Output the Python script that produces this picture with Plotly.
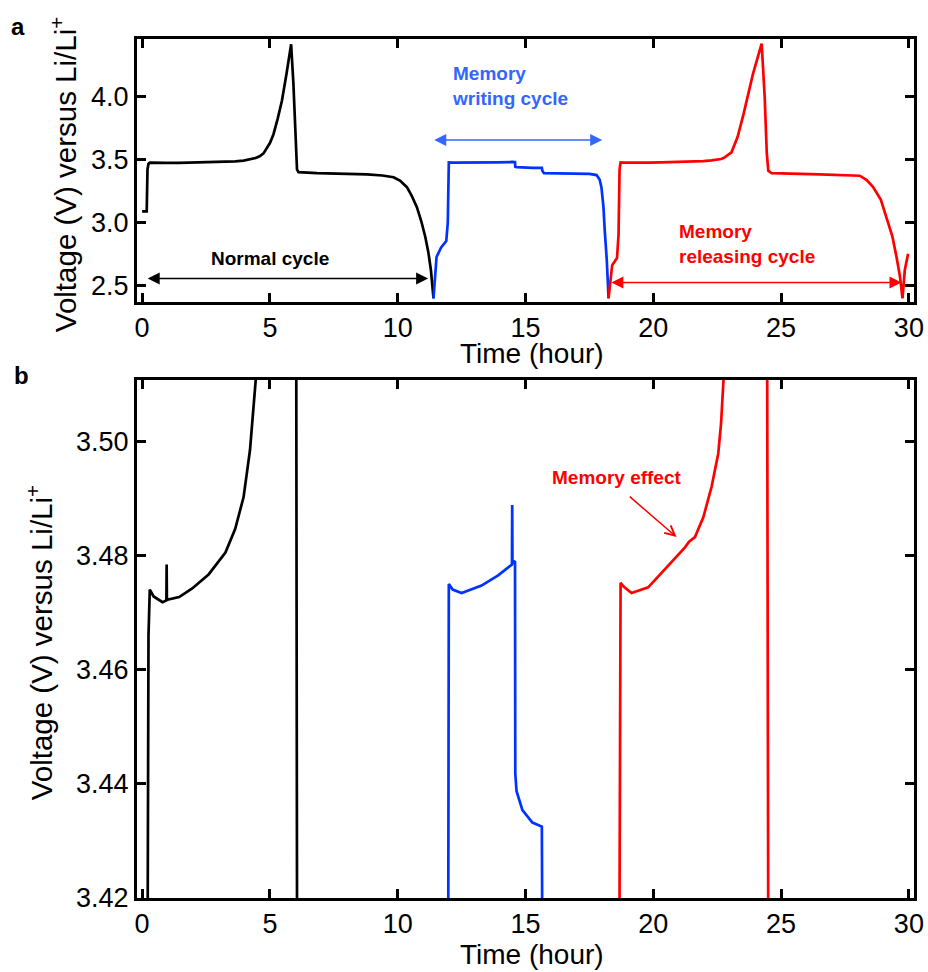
import plotly.graph_objects as go

# ---------------- data (time in hours, voltage in V vs Li/Li+) ----------------
black_t = [0.0, 0.18, 0.21, 0.25, 0.30, 0.45, 0.80, 0.95, 0.96, 0.97, 1.45, 1.96, 2.61, 3.26,
           3.64, 3.97, 4.22, 4.44, 4.60, 4.75, 5.00, 5.14, 5.30, 5.47, 5.65, 5.83, 5.92, 6.02,
           6.06, 6.12, 6.84, 8.80, 9.40, 9.84, 10.10, 10.36, 10.55, 10.75, 10.92, 11.08, 11.20,
           11.30, 11.36, 11.40]
black_v = [3.086, 3.086, 3.42, 3.466, 3.4740, 3.4728, 3.4718, 3.4721, 3.4784, 3.4722, 3.4727,
           3.4742, 3.4767, 3.4805, 3.4846, 3.4902, 3.4984, 3.5104, 3.525, 3.548, 3.63, 3.70,
           3.82, 3.966, 4.18, 4.415, 4.10, 3.55, 3.42, 3.398, 3.390, 3.380, 3.372, 3.358, 3.33,
           3.279, 3.21, 3.12, 3.01, 2.883, 2.76, 2.619, 2.50, 2.395]

blue_t = [11.40, 11.52, 11.70, 11.90, 11.96, 11.98, 12.00, 12.15, 12.50, 13.28, 13.93, 14.47,
          14.48, 14.49, 14.59, 14.60, 14.65, 14.88, 15.27, 15.64, 15.66, 15.72, 17.50, 17.78,
          17.90, 17.97, 18.05, 18.10, 18.18, 18.25]
blue_v = [2.395, 2.724, 2.80, 2.851, 3.00, 3.42, 3.4750, 3.4740, 3.4734, 3.4747, 3.4765, 3.4784,
          3.4888, 3.4786, 3.4790, 3.4418, 3.4387, 3.4354, 3.4332, 3.4325, 3.41, 3.39, 3.385,
          3.375, 3.34, 3.279, 3.12, 2.936, 2.70, 2.395]

red_t = [18.25, 18.39, 18.58, 18.64, 18.68, 18.70, 18.72, 18.85, 19.15, 19.80, 20.30, 20.85,
         21.10, 21.24, 21.40, 21.63, 21.96, 22.28, 22.54, 22.65, 22.75, 22.90, 23.06, 23.30,
         23.53, 23.90, 24.10, 24.24, 24.36, 24.44, 24.50, 24.63, 26.50, 28.08, 28.35, 28.60,
         28.90, 29.13, 29.35, 29.52, 29.65, 29.75, 29.84, 29.97]
red_v = [2.395, 2.658, 2.716, 2.90, 3.42, 3.466, 3.4752, 3.4745, 3.4734, 3.4744, 3.4768, 3.4794,
         3.4806, 3.4814, 3.4824, 3.4832, 3.4867, 3.4920, 3.4978, 3.503, 3.511, 3.530, 3.556,
         3.68, 3.86, 4.18, 4.33, 4.42, 3.99, 3.55, 3.41, 3.39, 3.38, 3.37, 3.335, 3.28, 3.18,
         3.04, 2.89, 2.72, 2.57, 2.395, 2.62, 2.75]

x_ticks = [0, 5, 10, 15, 20, 25, 30]
top_y_ticks = [2.5, 3.0, 3.5, 4.0]
bottom_y_ticks = [3.42, 3.44, 3.46, 3.48, 3.50]

# ---------------- figure ----------------
BLACK = "#000000"
BLUE = "#0033FF"
BLUE_TXT = "#3366FF"
RED = "#FF0000"
FONT = "Liberation Sans, Arial, sans-serif"

fig = go.Figure()
series = [(black_t, black_v, BLACK), (blue_t, blue_v, BLUE), (red_t, red_v, RED)]
for xa, ya in (("x", "y"), ("x2", "y2")):
    for t, v, c in series:
        fig.add_trace(go.Scatter(x=t, y=v, mode="lines", xaxis=xa, yaxis=ya,
                                 line=dict(color=c, width=2.7), showlegend=False,
                                 hoverinfo="skip"))

axis_common = dict(showline=True, linewidth=3, linecolor="black", mirror="ticks",
                   ticks="inside", ticklen=9, tickwidth=3, tickcolor="black",
                   showgrid=False, zeroline=False, automargin=False,
                   tickfont=dict(family=FONT, size=27, color="black"))

fig.update_layout(
    width=928, height=972,
    margin=dict(l=137, r=14, t=39, b=74, autoexpand=False),
    paper_bgcolor="white", plot_bgcolor="white",
    font=dict(family=FONT, color="black"),
    xaxis=dict(domain=[0, 1], range=[-0.2, 30.2], tickvals=x_ticks, anchor="y", **axis_common),
    yaxis=dict(domain=[0.6944, 1], range=[2.37, 4.457], tickvals=top_y_ticks,
               tickformat=".1f", anchor="x", **axis_common),
    xaxis2=dict(domain=[0, 1], range=[-0.2, 30.2], tickvals=x_ticks, anchor="y2", **axis_common),
    yaxis2=dict(domain=[0, 0.603], range=[3.42, 3.5107], tickvals=bottom_y_ticks,
                tickformat=".2f", anchor="x2", **axis_common),
)

ann = []
# panel letters
ann.append(dict(text="<b>a</b>", xref="paper", yref="paper", x=-0.165, y=1.015,
                xanchor="left", yanchor="middle", showarrow=False,
                font=dict(size=24, family=FONT)))
ann.append(dict(text="<b>b</b>", xref="paper", yref="paper", x=-0.161, y=0.6077,
                xanchor="left", yanchor="middle", showarrow=False,
                font=dict(size=24, family=FONT)))
# axis titles
ytitle = "Voltage (V) versus Li/Li<sup>+</sup>"
ann.append(dict(text=ytitle, xref="paper", yref="paper", x=-0.0947, y=0.842, textangle=-90,
                xanchor="center", yanchor="middle", showarrow=False,
                font=dict(size=29.5, family=FONT)))
ann.append(dict(text=ytitle, xref="paper", yref="paper", x=-0.1256, y=0.297, textangle=-90,
                xanchor="center", yanchor="middle", showarrow=False,
                font=dict(size=29.5, family=FONT)))
ann.append(dict(text="Time (hour)", xref="paper", yref="paper", x=0.5084, y=0.6333,
                xanchor="center", yanchor="middle", showarrow=False,
                font=dict(size=28, family=FONT)))
ann.append(dict(text="Time (hour)", xref="paper", yref="paper", x=0.5084, y=-0.066,
                xanchor="center", yanchor="middle", showarrow=False,
                font=dict(size=28, family=FONT)))

# double arrows, top panel
def double_arrow(x0, x1, y, color):
    return dict(x=x1, y=y, ax=x0, ay=y, xref="x", yref="y", axref="x", ayref="y",
                text="", showarrow=True, arrowside="end+start",
                arrowhead=2, startarrowhead=2, arrowsize=1.6, startarrowsize=1.6,
                arrowwidth=1.5, arrowcolor=color)

ann.append(double_arrow(0.16, 11.19, 2.553, BLACK))
ann.append(double_arrow(11.37, 18.0, 3.655, BLUE_TXT))
ann.append(double_arrow(18.3, 29.71, 2.521, RED))

ann.append(dict(text="<b>Normal cycle</b>", x=5.01, y=2.714, xref="x", yref="y",
                showarrow=False, xanchor="center", yanchor="middle",
                font=dict(size=19, family=FONT, color=BLACK)))
ann.append(dict(text="<b>Memory<br>writing cycle</b>", x=12.04, y=4.081, xref="x", yref="y",
                showarrow=False, xanchor="left", yanchor="middle", align="left",
                font=dict(size=19, family=FONT, color=BLUE_TXT)))
ann.append(dict(text="<b>Memory<br>releasing cycle</b>", x=20.92, y=2.826, xref="x", yref="y",
                showarrow=False, xanchor="left", yanchor="middle", align="left",
                font=dict(size=19, family=FONT, color=RED)))

# memory effect annotation, bottom panel
ann.append(dict(text="<b>Memory effect</b>", x=18.56, y=3.4937, xref="x2", yref="y2",
                showarrow=False, xanchor="center", yanchor="middle",
                font=dict(size=19, family=FONT, color=RED)))
ann.append(dict(x=20.91, y=3.4832, ax=19.02, ay=3.4905, xref="x2", yref="y2",
                axref="x2", ayref="y2", text="", showarrow=True, arrowhead=5,
                arrowsize=1.3, arrowwidth=1.5, arrowcolor=RED))

fig.update_layout(annotations=ann)

fig.write_html("out.html", config={"displayModeBar": False},
               post_script="document.body.style.margin='0';document.body.style.padding='0';")
